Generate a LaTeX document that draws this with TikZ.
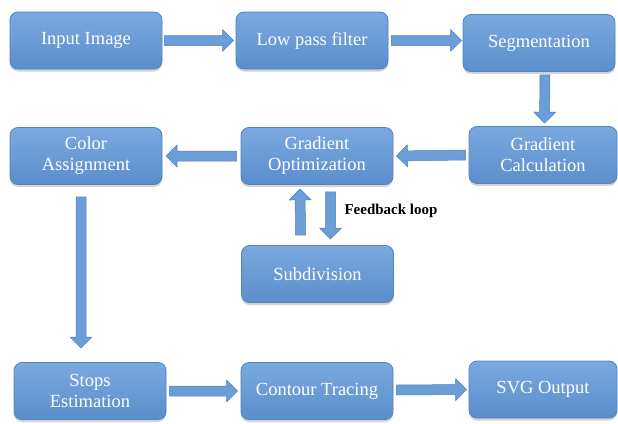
\documentclass[tikz,border=0pt]{standalone}
\usepackage{fontspec}
\setmainfont{Liberation Serif}
\usetikzlibrary{shadows,calc}

\definecolor{boxtop}{HTML}{7AA9DF}
\definecolor{boxbot}{HTML}{5A8ECC}
\definecolor{boxline}{HTML}{5283BF}
\definecolor{arrfill}{HTML}{6B9DD6}
\definecolor{arrline}{HTML}{4F80BC}

\tikzset{
  stage/.style={rounded corners=8pt, top color=boxtop, bottom color=boxbot,
    draw=boxline, line width=0.8pt, minimum width=152pt, minimum height=57pt,
    align=center, text=white, font=\fontsize{18.5}{21}\selectfont,
    drop shadow={opacity=0.35, shadow xshift=0pt, shadow yshift=-2.5pt}},
  blockarrow/.style={fill=arrfill, draw=arrline, line width=0.5pt, line join=round},
}

% block arrow from #1 to #2 (shaft half width 5, head half width 11, head length 11)
\newcommand{\barrow}[2]{%
  \path[blockarrow] let \p1=(#1), \p2=(#2),
    \n1={atan2(\y2-\y1,\x2-\x1)}, \n2={veclen(\x2-\x1,\y2-\y1)} in
    [shift={(\p1)}, rotate=\n1]
    (0,-5) -- ({\n2-11},-5) -- ({\n2-11},-11) -- (\n2,0) --
    ({\n2-11},11) -- ({\n2-11},5) -- (0,5) -- cycle;
}

\begin{document}
\begin{tikzpicture}[x=1pt, y=-1pt]
\useasboundingbox (0,0) rectangle (618,423);

\node[stage] (input) at (86,40.5) {Input Image};
\node[stage] (lpf) at (312,40.5) {Low pass filter};
\node[stage] (seg) at (539,43) {Segmentation};
\node[stage, minimum width=148pt] (gcalc) at (543,155) {Gradient\\Calculation};
\node[stage] (gopt) at (317,156) {Gradient\\Optimization};
\node[stage] (color) at (86,156) {Color\\Assignment};
\node[stage] (subd) at (317.5,274) {Subdivision};
\node[stage] (stops) at (90,391) {Stops\\Estimation};
\node[stage] (contour) at (317,391) {Contour Tracing};
\node[stage, minimum width=148pt] (svg) at (543,389.5) {SVG Output};

% arrow end points
\coordinate (a1s) at ($(input.east)+(2,0)$);
\coordinate (a1e) at ($(lpf.west)+(-2,0)$);
\coordinate (a2s) at ($(lpf.east)+(3,0)$);
\coordinate (a2e) at ($(seg.west)+(-1,-2.5)$);
\coordinate (a3s) at ($(seg.south)+(6,3)$);
\coordinate (a3e) at ($(gcalc.north)+(1.5,-3)$);
\coordinate (a4s) at ($(gcalc.west)+(-3,0)$);
\coordinate (a4e) at ($(gopt.east)+(3,0)$);
\coordinate (a5s) at ($(gopt.west)+(-4,0)$);
\coordinate (a5e) at ($(color.west)!0.5!(color.east)+(80,0)$);
\coordinate (a6s) at ($(color.south)+(-5,12)$);
\coordinate (a6e) at ($(stops.north)+(-9,-14)$);
\coordinate (a7s) at ($(stops.east)+(3,0)$);
\coordinate (a7e) at ($(contour.west)+(-3,0)$);
\coordinate (a8s) at ($(contour.east)+(3,-1)$);
\coordinate (a8e) at ($(svg.west)+(-2,0)$);
\coordinate (fbus) at ($(subd.north)+(-17,-10)$);
\coordinate (fbue) at ($(gopt.south)+(-17,4)$);
\coordinate (fbds) at ($(gopt.south)+(13.5,7)$);
\coordinate (fbde) at ($(subd.north)+(13,-6)$);

\barrow{a1s}{a1e}
\barrow{a2s}{a2e}
\barrow{a3s}{a3e}
\barrow{a4s}{a4e}
\barrow{a5s}{a5e}
\barrow{a6s}{a6e}
\barrow{a7s}{a7e}
\barrow{a8s}{a8e}
\barrow{fbus}{fbue}
\barrow{fbds}{fbde}

\node[anchor=west, font=\bfseries\fontsize{15}{17}\selectfont] (fbl) at (341,211) {Feedback loop};
\end{tikzpicture}
\end{document}
